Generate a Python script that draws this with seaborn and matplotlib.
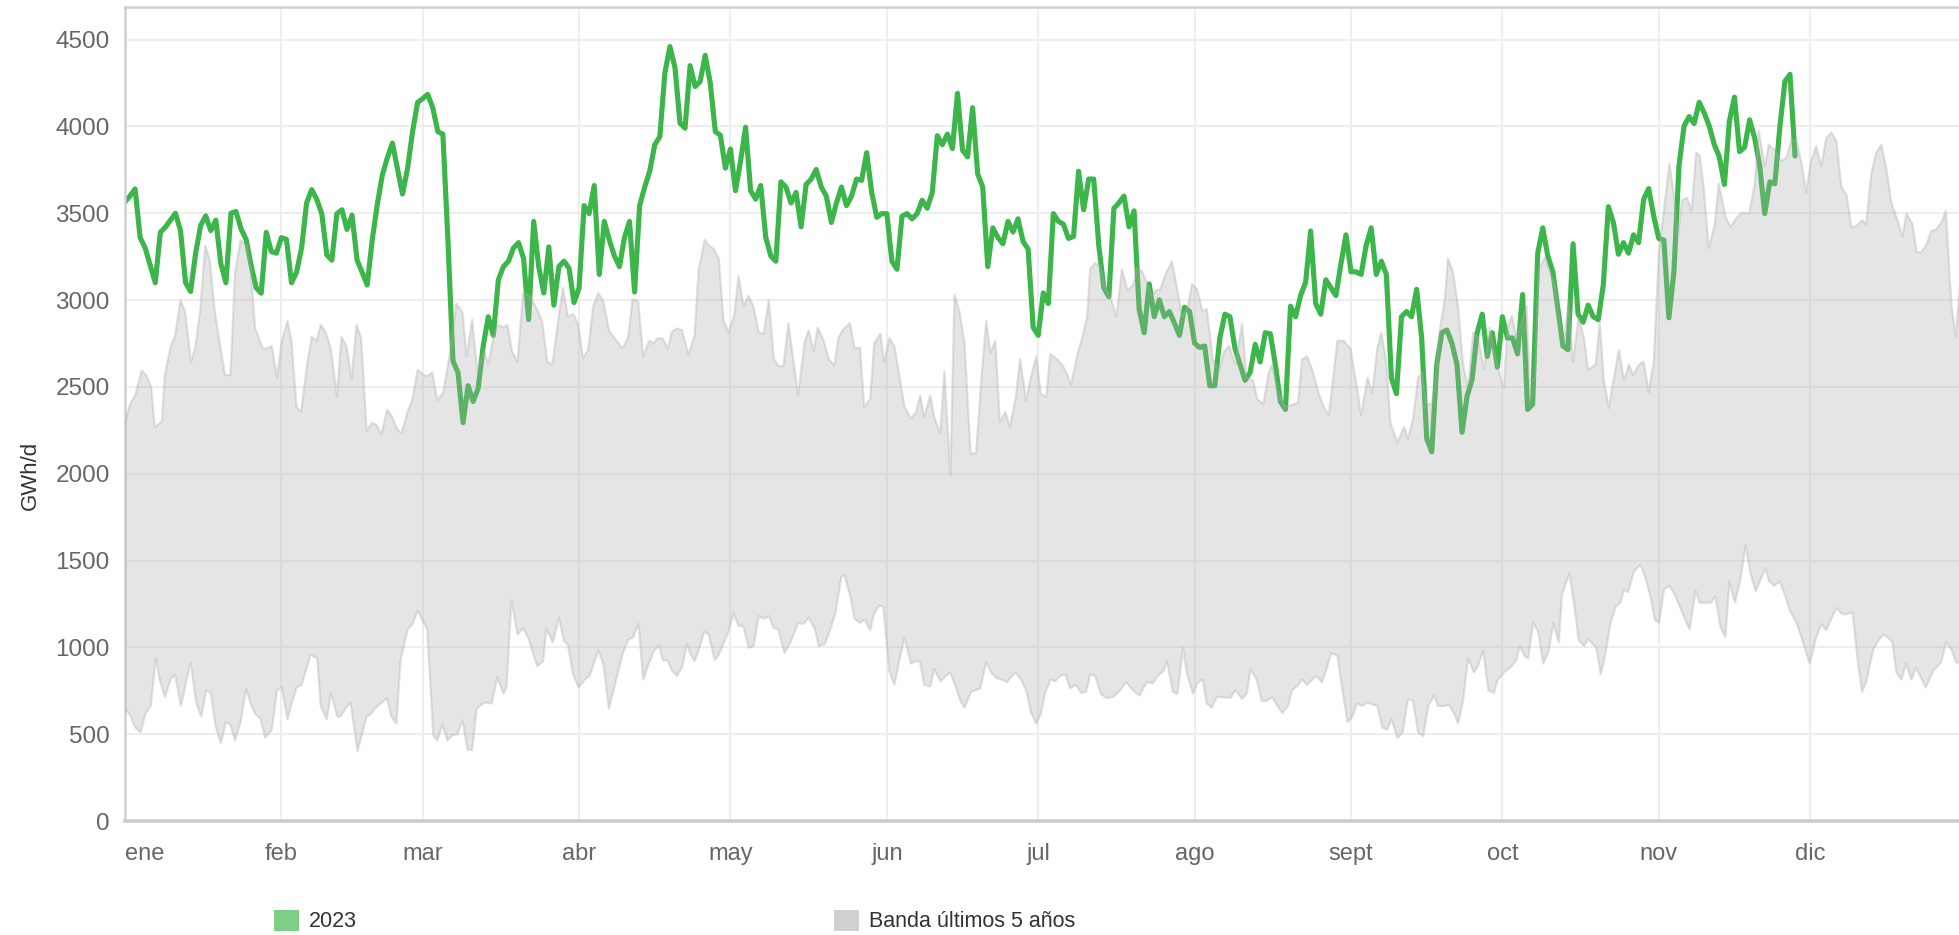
import matplotlib
matplotlib.use("Agg")
import matplotlib.pyplot as plt
import seaborn as sns
import numpy as np
from matplotlib.patches import Patch

# Consumo 2023 (GWh/d), un valor por día desde el 1 de enero
gas_2023 = [
    3565, 3600, 3640, 3360, 3300, 3200, 3100, 3390, 3420, 3460, 3500, 3400, 3100, 3050, 3270, 3430,
    3485, 3400, 3460, 3210, 3100, 3500, 3510, 3410, 3350, 3200, 3070, 3040, 3390, 3280, 3270,
    3360, 3350, 3100, 3160, 3300, 3560, 3636, 3581, 3498, 3260, 3230, 3498, 3520, 3407, 3489, 3230,
    3160, 3087, 3346, 3550, 3720, 3820, 3904, 3758, 3611, 3758, 3971, 4139,
    4160, 4185, 4108, 3970, 3956, 3350, 2650, 2583, 2294, 2507, 2416, 2492, 2736, 2904, 2797, 3117,
    3193, 3224, 3300, 3331, 3239, 2888, 3453, 3193, 3041, 3306, 2971, 3193, 3224, 3184, 2986,
    3071, 3544, 3498, 3660, 3148, 3453, 3346, 3254, 3193, 3361, 3453, 3047, 3544, 3651, 3742, 3895,
    3941, 4307, 4460, 4340, 4020, 3990, 4350, 4230, 4260, 4410, 4250, 3970, 3950, 3760, 3870,
    3630, 3800, 3996, 3630, 3581, 3660, 3361, 3254, 3224, 3681, 3651, 3559, 3620, 3422, 3666, 3697,
    3752, 3651, 3599, 3447, 3559, 3651, 3544, 3600, 3697, 3690, 3849, 3620, 3477, 3498,
    3498, 3224, 3178, 3483, 3498, 3468, 3498, 3575, 3529, 3620, 3947, 3895, 3956, 3873, 4191, 3864,
    3825, 4108, 3727, 3651, 3193, 3416, 3361, 3324, 3453, 3392, 3468, 3337, 3294, 2843, 2797,
    3041, 2980, 3498, 3453, 3437, 3355, 3367, 3742, 3520, 3697, 3697, 3316, 3071, 3020, 3529, 3560,
    3599, 3422, 3514, 2949, 2812, 3093, 2904, 3001, 2904, 2934, 2867, 2797, 2959, 2934, 2751,
    2727, 2736, 2507, 2507, 2782, 2919, 2904, 2721, 2629, 2538, 2583, 2745, 2644, 2812, 2806, 2629,
    2416, 2370, 2965, 2904, 3026, 3102, 3398, 2980, 2919, 3117, 3071, 3026, 3209, 3376, 3163,
    3163, 3148, 3315, 3416, 3148, 3224, 3148, 2553, 2461, 2904, 2934, 2904, 3062, 2782, 2202, 2126,
    2629, 2812, 2828, 2751, 2629, 2239, 2446, 2544, 2812, 2919, 2675, 2812, 2614, 2904, 2782,
    2782, 2690, 3032, 2370, 2400, 3270, 3416, 3254, 3163, 2950, 2736, 2714, 3324, 2919, 2873, 2971,
    2904, 2888, 3087, 3538, 3447, 3264, 3331, 3270, 3376, 3331, 3581, 3642, 3483, 3355, 3346,
    2898, 3163, 3773, 4002, 4057, 4017, 4139, 4078, 4002, 3895, 3825, 3666, 4032, 4169, 3855, 3880,
    4038, 3934, 3773, 3498, 3681, 3670, 4000, 4260, 4300, 3830,
]

# Banda últimos 5 años: máximo (día del año, GWh/d)
band_max = [
    (0, 2294), (1, 2400), (2, 2452), (3.3, 2593), (4.2, 2568), (5.2, 2498), (5.9, 2269), (7.3, 2300),
    (7.9, 2568), (9, 2727), (9.9, 2791), (11, 3001), (11.9, 2934), (13.1, 2644), (13.9, 2721),
    (14.9, 2940), (15.9, 3315), (16.8, 3233), (17.8, 2934), (18.8, 2751), (19.8, 2568), (20.9, 2568),
    (21.8, 3154), (22.9, 3346), (24.1, 3315), (24.9, 3178), (25.8, 2837), (27.3, 2721), (28.1, 2721),
    (29.1, 2736), (30.1, 2553), (31.1, 2766), (32.2, 2879), (33, 2766), (34, 2385), (34.9, 2355),
    (36.1, 2629), (37, 2788), (38, 2766), (38.8, 2858), (39.8, 2812), (40.8, 2721), (42, 2446),
    (42.9, 2788), (43.9, 2736), (44.9, 2544), (45.9, 2858), (46.8, 2782), (47.9, 2248), (49, 2294),
    (49.9, 2278), (50.8, 2227), (52, 2370), (53, 2324), (54, 2254), (54.8, 2233), (56, 2355),
    (57, 2431), (58, 2599), (58.9, 2574), (59.9, 2562), (60.9, 2583), (61.9, 2422), (63.1, 2470),
    (64.2, 2660), (65.7, 2980), (66.9, 2928), (67.7, 2675), (68.8, 2888), (69.8, 2599), (71.2, 2705),
    (72, 2629), (73, 2782), (73.8, 2858), (75, 2843), (75.8, 2858), (76.7, 2705), (77.8, 2644),
    (78.9, 3041), (80.2, 3026), (81.9, 2934), (82.7, 2873), (83.7, 2644), (84.7, 2629), (85.8, 2873),
    (86.8, 3071), (87.8, 2904), (88.8, 2919), (89.8, 2864), (90.8, 2666), (91.8, 2714), (92.8, 2965),
    (93.8, 3041), (94.8, 2995), (95.9, 2827), (97, 2782), (98.6, 2721), (99.7, 2782), (100.6, 3004),
    (101.7, 2995), (102.7, 2675), (103.9, 2766), (104.8, 2751), (105.6, 2782), (106.6, 2776),
    (107.6, 2721), (108.4, 2818), (109.4, 2837), (110.4, 2827), (111.7, 2684), (112.9, 2797),
    (113.7, 3178), (114.9, 3346), (115.7, 3315), (116.7, 3294), (117.7, 3239), (118.6, 2888),
    (119.6, 2812), (120.8, 2919), (121.6, 3141), (122.6, 2965), (123.6, 3026), (124.6, 2959),
    (125.6, 2812), (126.6, 2806), (127.6, 3001), (128.6, 2660), (129.5, 2620), (130.5, 2620),
    (131.5, 2867), (132.5, 2644), (133.4, 2452), (134.7, 2757), (135.5, 2827), (136.5, 2705),
    (137.3, 2843), (138.5, 2766), (139.5, 2660), (140.6, 2623), (141.4, 2782), (142.2, 2827),
    (143.7, 2867), (144.6, 2721), (145.7, 2727), (146.5, 2385), (147.7, 2431), (148.5, 2751),
    (149.7, 2806), (150.5, 2644), (151.5, 2782), (152.5, 2736), (154.5, 2385), (155.8, 2318),
    (156.8, 2355), (157.6, 2452), (158.4, 2324), (159.6, 2452), (160.4, 2324), (161.6, 2233),
    (162.4, 2593), (163.6, 1989), (164.4, 3032), (165.4, 2934), (166.4, 2751), (167.6, 2117),
    (168.7, 2117), (169.7, 2538), (170.7, 2879), (171.5, 2696), (172.5, 2766), (173.4, 2300),
    (174.5, 2355), (175.4, 2269), (176.6, 2446), (177.4, 2660), (178.6, 2422), (179.6, 2562),
    (180.6, 2675), (181.5, 2461), (182.6, 2440), (183.4, 2690), (184.7, 2660), (185.7, 2629),
    (186.6, 2583), (187.5, 2513), (188.8, 2690), (189.7, 2782), (190.7, 2904), (191.3, 3178),
    (192.3, 3215), (193.3, 3193), (194.3, 3071), (195.4, 3010), (196.5, 2904), (197.6, 3178),
    (198.7, 3056), (199.8, 3087), (200.6, 3184), (201.6, 3163), (202.5, 3102), (203.5, 3026),
    (204.4, 3056), (205.2, 3062), (206.2, 3148), (207.5, 3224), (208.5, 3071), (209.5, 2904),
    (210.7, 2965), (211.5, 3093), (212.5, 3062), (213.6, 2934), (214.4, 2949), (215.6, 2660),
    (216.8, 2593), (217.8, 2700), (218.8, 2736), (220.1, 2629), (221.4, 2867), (222.3, 2553),
    (223.6, 2538), (224.4, 2431), (225.6, 2400), (226.7, 2583), (227.4, 2629), (228.4, 2483),
    (230, 2385), (231.7, 2400), (232.5, 2410), (233.3, 2660), (234.3, 2675), (235.3, 2599),
    (236.6, 2461), (237.6, 2385), (238.6, 2339), (240.3, 2766), (241.5, 2766), (242.9, 2721),
    (243.9, 2544), (245, 2339), (246.3, 2553), (247.2, 2461), (248.2, 2721), (249, 2812), (250, 2644),
    (250.8, 2294), (252.2, 2178), (253.5, 2269), (254.3, 2202), (255.3, 2318), (256.3, 2553),
    (257.1, 2583), (257.9, 2400), (258.9, 2400), (259.6, 2492), (260.6, 2827), (261.6, 3010),
    (262.2, 3239), (263.2, 3163), (264.2, 2965), (265.2, 2629), (266.2, 2492), (267.2, 2812),
    (268.2, 2782), (269.4, 2599), (270.5, 2843), (271.5, 2690), (272.5, 2568), (273.3, 2492),
    (274, 2843), (274.9, 2910), (275.8, 2782), (276.8, 2873), (277.8, 2965), (278.4, 2538),
    (279.4, 2544), (280.2, 3178), (281.4, 3245), (282.6, 3148), (283.5, 3071), (284.4, 2873),
    (285.2, 2751), (286.1, 2995), (287, 2644), (288.1, 2904), (289.2, 2776), (290, 2599),
    (291.5, 2629), (292.3, 2873), (293.1, 2538), (294.1, 2379), (295.1, 2553), (296.1, 2714),
    (297.1, 2538), (298.1, 2629), (298.9, 2568), (300.1, 2629), (301, 2644), (302, 2470), (303, 2644),
    (304, 3270), (305, 3514), (306.1, 3788), (307, 3605), (307.8, 3361), (308.6, 3575), (309.6, 3590),
    (310.5, 3514), (311.4, 3849), (312.1, 3834), (312.9, 3651), (313.9, 3300), (315.1, 3437),
    (315.9, 3672), (317.2, 3483), (318.2, 3422), (319.5, 3477), (320.5, 3504), (321.9, 3498),
    (323, 3666), (323.8, 3977), (325, 3773), (325.8, 3895), (327, 3864), (328.3, 3803), (329.3, 3819),
    (330.3, 3925), (331.3, 3916), (332.3, 3788), (333.2, 3620), (334.2, 3803), (335.2, 3886),
    (336.2, 3773), (337.2, 3934), (338.2, 3965), (339.2, 3916), (340.2, 3651), (341.2, 3605),
    (342.2, 3416), (343.2, 3428), (344.3, 3459), (345.1, 3437), (346.1, 3727), (347.1, 3849),
    (348.1, 3895), (349.1, 3758), (350.1, 3559), (351.1, 3477), (352.3, 3367), (353.1, 3498),
    (354.3, 3437), (355.1, 3276), (356, 3276), (357, 3315), (358, 3398), (359, 3407), (360, 3447),
    (360.9, 3514), (362, 2971), (362.9, 2788), (363.6, 3071),
]

# Banda últimos 5 años: mínimo (día del año, GWh/d)
band_min = [
    (0, 647), (1, 610), (2, 540), (3.1, 509), (4, 616), (5.1, 662), (6.1, 936), (6.9, 814), (7.9, 714),
    (9, 814), (9.9, 845), (11.1, 662), (12.1, 799), (13, 912), (14.1, 683), (15.1, 601), (16.1, 753),
    (17, 738), (18, 540), (19, 448), (20, 570), (20.9, 555), (21.8, 464), (22.9, 570), (24, 760),
    (24.9, 677), (25.8, 616), (26.8, 592), (27.8, 479), (29.1, 525), (30.1, 753), (31.1, 769),
    (32.2, 586), (33.2, 692), (34, 769), (35, 784), (36.8, 958), (38.1, 936), (38.8, 662), (40, 586),
    (40.8, 738), (42.1, 601), (42.7, 601), (43.7, 647), (44.7, 683), (46.1, 403), (47.9, 601),
    (48.7, 616), (49.7, 653), (50.7, 677), (51.9, 708), (52.8, 601), (53.8, 561), (54.6, 921),
    (56, 1104), (57, 1135), (58, 1211), (59.9, 1104), (61.1, 494), (61.9, 464), (62.9, 555),
    (63.9, 464), (64.9, 494), (65.9, 500), (66.9, 580), (67.9, 409), (68.8, 409), (69.7, 647),
    (71.2, 683), (72.7, 677), (73.8, 830), (75, 732), (75.6, 769), (76.6, 1272), (77.8, 1074),
    (78.9, 1110), (79.9, 1058), (81.7, 891), (82.9, 921), (83.5, 1110), (84.8, 1028), (86, 1171),
    (87, 1037), (87.8, 1013), (88.8, 845), (89.9, 769), (91.1, 814), (92.1, 836), (93.8, 982),
    (94.8, 906), (95.9, 647), (98.7, 967), (99.7, 1043), (100.7, 1058), (101.8, 1135), (102.7, 814),
    (103.7, 897), (104.8, 976), (105.8, 1013), (106.6, 927), (107.6, 921), (108.4, 866), (109.4, 836),
    (110.4, 884), (111.4, 1019), (112, 967), (112.9, 921), (113.7, 982), (114.8, 1089), (115.7, 1074),
    (116.9, 927), (117.7, 958), (119.6, 1089), (120.6, 1196), (121.6, 1125), (122.6, 1119),
    (123.6, 997), (124.6, 1007), (125.6, 1180), (126.6, 1165), (127.6, 1180), (128.6, 1110),
    (129.5, 1104), (130.7, 967), (131.9, 1028), (133.4, 1141), (134.5, 1135), (135.5, 1171),
    (136.7, 1110), (137.5, 1007), (138.7, 1019), (139.8, 1104), (140.8, 1196), (142, 1409),
    (142.6, 1415), (143.7, 1302), (144.6, 1165), (145.6, 1141), (146.6, 1159), (147.7, 1098),
    (148.5, 1196), (149.5, 1241), (150.3, 1232), (151.5, 860), (152.5, 784), (153.5, 927),
    (154.5, 1058), (155.8, 906), (156.8, 921), (157.6, 915), (158.4, 784), (159.6, 775), (160.4, 875),
    (161.6, 805), (162.7, 836), (163.6, 854), (164.7, 769), (165.7, 683), (166.4, 653), (167.7, 744),
    (169.5, 763), (170.7, 915), (171.7, 854), (172.7, 824), (173.8, 814), (174.8, 799), (175.8, 836),
    (176.6, 854), (177.6, 814), (178.6, 753), (179.6, 622), (180.6, 561), (181.5, 616), (182.4, 738),
    (183.4, 814), (184.4, 805), (185.4, 836), (186.4, 845), (187.3, 763), (188.5, 784), (189.5, 738),
    (190.5, 744), (191.3, 845), (192.3, 836), (193.4, 732), (194.6, 708), (195.8, 714), (197.3, 753),
    (198.4, 799), (199.8, 753), (201.1, 723), (202.5, 799), (203.7, 793), (204.7, 836), (205.9, 866),
    (206.5, 921), (207.7, 744), (208.6, 732), (209.7, 997), (210.5, 845), (211.7, 732), (212.5, 793),
    (213.6, 814), (214.4, 677), (215.4, 653), (216.4, 714), (217.4, 714), (219.1, 708), (220.1, 753),
    (221.4, 702), (222.3, 732), (223.1, 875), (224.3, 814), (225.3, 692), (226.3, 692), (227.4, 714),
    (228.4, 662), (229.4, 622), (230.5, 662), (231.3, 753), (232.3, 775), (233.3, 814), (234.3, 784),
    (235.3, 814), (236.2, 836), (237.2, 799), (238, 860), (239.1, 967), (240.3, 952), (241.3, 753),
    (242.3, 570), (243.1, 592), (244.2, 677), (245.2, 662), (246.2, 683), (248.2, 662), (249.2, 540),
    (250.2, 525), (251, 586), (252.2, 479), (253.2, 509), (254.3, 702), (255.3, 692), (256.3, 509),
    (257.3, 488), (258.3, 662), (259.5, 723), (260.2, 662), (261.6, 662), (262.4, 671), (263.6, 610),
    (264.2, 561), (265.2, 692), (266.2, 936), (267.4, 854), (268.2, 897), (269.2, 982), (270.2, 753),
    (271.3, 738), (272.1, 814), (273.5, 860), (274.6, 884), (275.8, 927), (276.4, 1007), (277.4, 952),
    (278.1, 936), (279.1, 1141), (280.1, 1089), (281.1, 906), (282.2, 982), (283.1, 1141),
    (284.2, 1028), (284.8, 1302), (285.7, 1379), (286.3, 1424), (287.3, 1232), (288.1, 1043),
    (289.2, 1007), (290, 1049), (291.6, 997), (292.5, 845), (293.4, 958), (294.4, 1135), (295.4, 1232),
    (296.4, 1257), (297.1, 1333), (297.9, 1318), (299.1, 1440), (300.4, 1476), (301.4, 1394),
    (302.4, 1287), (303.2, 1159), (304.1, 1141), (305, 1333), (306.1, 1354), (307.2, 1302),
    (308.3, 1226), (309.5, 1141), (310.1, 1104), (311.3, 1324), (312.1, 1257), (313.3, 1257),
    (314.3, 1257), (315.2, 1293), (316.2, 1119), (317.2, 1058), (318, 1379), (319.1, 1257),
    (320.2, 1394), (321.2, 1586), (322.2, 1424), (323.2, 1324), (324.2, 1394), (325.2, 1455),
    (325.8, 1385), (326.8, 1354), (328, 1379), (329, 1302), (330, 1211), (331.3, 1141), (332.6, 1028),
    (333.9, 906), (335.2, 1058), (336.2, 1135), (337.2, 1098), (338.2, 1165), (339.2, 1226),
    (340.4, 1190), (341.2, 1190), (342.4, 1202), (343.5, 906), (344.3, 744), (345.1, 799), (346.5, 988),
    (347.5, 1037), (348.4, 1074), (349.4, 1058), (350.3, 1028), (351.1, 854), (352.1, 814), (353, 906),
    (354.1, 814), (355, 884), (356.9, 769), (358.4, 866), (360, 915), (360.9, 1028), (362, 988),
    (362.9, 915), (363.6, 906),
]

month_start = [0, 31, 59, 90, 120, 151, 181, 212, 243, 273, 304, 334]
month_labels = ['ene', 'feb', 'mar', 'abr', 'may', 'jun', 'jul', 'ago', 'sept', 'oct', 'nov', 'dic']
y_ticks = list(range(0, 4501, 500))

sns.set_style("white")
plt.rcParams['font.family'] = ['Liberation Sans', 'DejaVu Sans']

fig = plt.figure(figsize=(19.59, 9.35), dpi=100)
ax = fig.add_axes([125 / 1959, 1 - 821 / 935, 1 - 125 / 1959, (821 - 7) / 935])

green = '#3cb54a'
band_col = '#acacac'

days = np.arange(len(gas_2023))
sns.lineplot(x=days, y=gas_2023, ax=ax, color=green, lw=3.7, zorder=2,
             solid_joinstyle='round', solid_capstyle='round')

# banda dibujada encima de la línea, semitransparente
top_d, top_v = zip(*band_max)
bot_d, bot_v = zip(*band_min)
ax.fill(list(top_d) + list(bot_d)[::-1], list(top_v) + list(bot_v)[::-1],
        color=band_col, alpha=0.3, lw=0, zorder=3)
ax.plot(top_d, top_v, color=band_col, alpha=0.35, lw=1.6, zorder=3)
ax.plot(bot_d, bot_v, color=band_col, alpha=0.35, lw=1.6, zorder=3)

ax.set_xlim(0, 363.5)
ax.set_ylim(0, 4688)
ax.set_xticks(month_start)
ax.set_xticklabels(month_labels)
ax.set_yticks(y_ticks)
ax.set_yticklabels([str(v) for v in y_ticks])
first = ax.get_xticklabels()[0]
first.set_ha('left')
first.set_x(0.6)

ax.grid(True, color='#eeeeee', lw=1.5, zorder=0)
ax.set_axisbelow(True)

for side in ['left', 'top']:
    ax.spines[side].set_color('#d0d0d0')
    ax.spines[side].set_linewidth(1.8)
ax.spines['bottom'].set_color('#cccccc')
ax.spines['bottom'].set_linewidth(2.6)
ax.spines['right'].set_visible(False)

ax.tick_params(axis='x', length=7, width=1.2, color='#e8e8e8', pad=9,
               labelsize=17, labelcolor='#666666')
ax.tick_params(axis='y', length=0, pad=11, labelsize=17.5, labelcolor='#666666')

ax.set_xlabel('')
ax.set_ylabel('GWh/d', fontsize=16, color='#333333')
ax.yaxis.set_label_coords(-0.046, 0.425)

handles = [Patch(facecolor='#7dce87', edgecolor='none', label='2023'),
           Patch(facecolor='#d0d0d0', edgecolor='none', label='Banda últimos 5 años')]
fig.legend(handles=handles, loc='center left', bbox_to_anchor=(274 / 1959, 1 - 921 / 935),
           ncol=2, frameon=False, fontsize=15.5, labelcolor='#333333',
           handlelength=1.15, handleheight=1.15, handletextpad=0.45,
           columnspacing=22.2, borderpad=0, borderaxespad=0)

fig.savefig('out.png', dpi=100)
